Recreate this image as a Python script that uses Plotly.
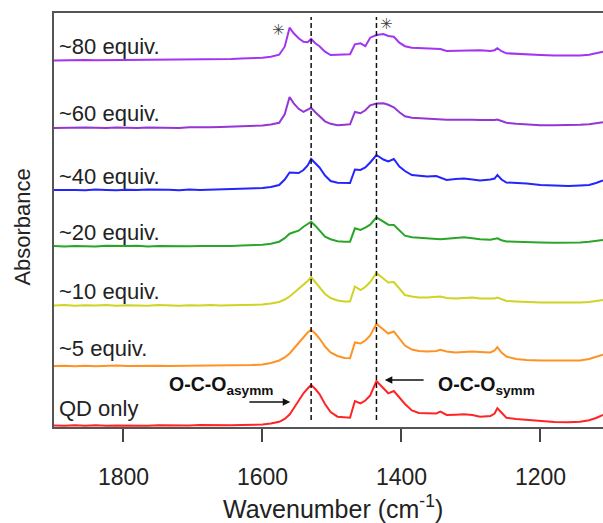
import plotly.graph_objects as go

# ---------------- data ----------------
# wavenumber grid (cm^-1): flat region + band region
wn_flat = [1900, 1885, 1870, 1855, 1840, 1825, 1810, 1795, 1780, 1765,
           1750, 1735, 1720, 1705, 1690, 1675, 1660, 1645, 1630, 1615]
wn_band = [1600, 1588, 1576, 1568, 1561, 1555, 1548, 1541, 1535, 1530,
           1524, 1518, 1510, 1502, 1492, 1482, 1474, 1467, 1459, 1452,
           1445, 1436, 1426, 1419, 1411, 1403, 1395, 1385, 1375, 1363,
           1350, 1344, 1335, 1322, 1310, 1298, 1287, 1272, 1266, 1262,
           1256, 1249, 1235, 1220, 1200, 1180, 1160, 1143, 1130, 1120,
           1110]
wavenumber = wn_flat + wn_band

labels = ["QD only", "~5 equiv.", "~10 equiv.", "~20 equiv.",
          "~40 equiv.", "~60 equiv.", "~80 equiv."]
colors = ["#ff2424", "#ff9224", "#cfd424", "#2aa52a",
          "#2424ff", "#9436d6", "#a234f2"]
# vertical stacking offsets (arb. absorbance units)
offsets = [1, 60.5, 121, 180.3, 236.5, 298.7, 366.3]

qd_only = [0.6, 0.2, 0.7, 0.3, 0.8, 0.2, 0.6, 0.4, 0.9, 0.3,
           0.7, 0.5, 0.8, 0.4, 0.9, 0.6, 0.8, 0.7, 1.0, 1.2] + [
    1.5, 2.5, 4.2, 7, 11.5, 17.7, 25, 32.7, 37.5, 41,
    37, 32, 22, 14, 9.3, 8.5, 8.3, 25, 22.7, 25.5,
    30.5, 45, 37.7, 32.7, 35, 28.5, 22, 15.5, 13, 12.7,
    12.5, 14.3, 11, 11.3, 11.7, 11, 9.3, 10, 12.5, 17.7,
    13, 8.3, 7, 6, 5, 4, 3.8, 4.3, 5.8, 8,
    11]
equiv_5 = [0.4, 0.8, 0.3, 0.7, 0.2, 0.6, 0.9, 0.4, 0.7, 0.3,
           0.8, 0.5, 0.6, 0.9, 0.4, 0.7, 0.6, 0.9, 1.1, 1.4] + [
    2, 3.5, 6, 9, 13, 18, 24, 30, 34, 36.7,
    33, 28, 20, 14, 10.5, 8.5, 8.3, 24, 23, 26,
    31, 42.7, 37, 33, 35, 28, 21, 17, 15.5, 15,
    15.5, 16.7, 15, 14, 14.5, 15, 14.5, 14, 16, 19.3,
    14, 10, 7.5, 6.5, 6, 6, 5.8, 6, 7.5, 9.5,
    11.7]
equiv_10 = [0.5, 0.9, 0.2, 0.7, 0.4, 1.0, 0.3, 0.8, 0.5, 0.2,
            0.9, 0.6, 0.3, 0.8, 0.5, 1.0, 0.4, 0.7, 0.9, 1.2] + [
    1.5, 2.5, 4, 6.5, 9.5, 13, 17, 21, 25, 29,
    24, 18, 12, 8, 5.5, 4.5, 4.5, 19.5, 16, 19,
    24, 33, 27, 23.5, 24, 17, 11, 9.5, 8.5, 8.5,
    9, 9.5, 8, 7.5, 8, 8.5, 7.5, 7, 7.5, 8.5,
    6.5, 5, 4.5, 4, 3.5, 3.5, 3.3, 3.5, 4, 5,
    6]
equiv_20 = [0.7, 0.3, 0.8, 0.5, 0.2, 0.9, 0.4, 0.6, 1.0, 0.3,
            0.7, 0.5, 0.9, 0.4, 0.8, 0.6, 1.0, 0.8, 1.1, 1.5] + [
    2, 3, 5, 8.5, 13, 14.5, 16, 20, 22.5, 25,
    21, 16, 10, 7.5, 5.5, 5, 5, 18.4, 16.7, 19,
    22, 29.4, 25, 22, 21.7, 16, 11, 9.5, 9, 8.4,
    8, 7.4, 8, 8.8, 9.4, 8.5, 7.5, 7, 7.5, 8.4,
    6.5, 5.3, 5, 4.5, 4.2, 4, 4, 4.2, 5, 5.8,
    6.7]
equiv_40 = [0.4, 0.8, 0.5, 0.2, 0.9, 0.6, 0.3, 0.8, 0.4, 1.0,
            0.5, 0.7, 0.3, 0.9, 0.6, 0.8, 1.0, 1.2, 1.5, 2.0] + [
    2.5, 3.5, 5.5, 11, 18, 17.8, 17.5, 20.5, 25, 31.5,
    27, 23, 15, 9.5, 7.8, 7.5, 7.5, 21, 20.5, 23,
    28, 35.5, 31, 29, 31.5, 24, 19.5, 15.5, 14.5, 14,
    14.5, 13, 10.5, 11.5, 12, 11, 10, 11, 12, 15.5,
    11, 8, 7.5, 7, 5.5, 4.8, 4.5, 5, 5.5, 7.5,
    10]
equiv_60 = [0.3, 0.7, 0.4, 0.9, 0.5, 0.2, 0.8, 0.6, 0.3, 0.9,
            0.5, 0.8, 0.4, 1.0, 0.7, 1.0, 1.3, 1.5, 1.8, 2.2] + [
    2.8, 3.8, 5.5, 14, 31.3, 25, 19.5, 16.5, 19, 20.5,
    16, 12, 7, 4.5, 3, 3.5, 4, 16.3, 15, 18,
    23, 24.7, 25, 23.5, 21, 16, 12, 10.5, 10, 9.7,
    9.5, 8.7, 8.5, 8.5, 8.7, 8.5, 8.2, 8, 8.3, 8.7,
    7, 5.5, 4.5, 3.8, 3, 3, 3, 3.5, 4, 5,
    6]
equiv_80 = [0.2, 0.6, 0.3, 0.8, 0.4, 0.5, 0.2, 0.9, 0.5, 0.7,
            1.0, 0.6, 1.2, 0.9, 1.4, 1.3, 1.8, 1.7, 2.2, 2.5] + [
    3, 4, 6, 14, 33, 27.4, 22.4, 19, 18.5, 21.7,
    17.4, 14.5, 9, 5.7, 6, 6.4, 6.4, 16.4, 17.4, 14.5,
    23, 25.7, 26.7, 24.7, 24, 18, 14.5, 13, 12.7, 12.4,
    12, 11.7, 9.7, 10, 10.3, 10.7, 10.5, 9.7, 10.5, 12.4,
    9.5, 7.4, 6.8, 6.4, 5.8, 5.2, 5, 5.3, 6, 7.5,
    9]
spectra = [qd_only, equiv_5, equiv_10, equiv_20, equiv_40, equiv_60, equiv_80]

peak_lines = [1530, 1436]          # O-C-O asymm / symm
impurity_marks = [(1577, 397), (1422, 403)]   # asterisks

tick_vals = [1800, 1600, 1400, 1200]

# ---------------- figure ----------------
fig = go.Figure()
for lab, col, off, sp in zip(labels, colors, offsets, spectra):
    fig.add_trace(go.Scatter(
        x=wavenumber, y=[off + v for v in sp], mode="lines", name=lab,
        line=dict(color=col, width=2), showlegend=False, hoverinfo="skip"))

FONT = "Liberation Sans, Arial, sans-serif"
annotations = []
for lab, off in zip(labels, offsets):
    annotations.append(dict(
        x=0.006, xref="paper", y=off + (18 if off < 100 else 14.5), yref="y",
        text=lab, showarrow=False, xanchor="left", yanchor="middle",
        font=dict(family=FONT, size=22, color="#222")))

# band assignment labels with arrows
annotations += [
    dict(x=1737, y=42, xref="x", yref="y", xanchor="left", yanchor="middle",
         text="<b>O-C-O<sub>asymm</sub></b>", showarrow=False,
         font=dict(family=FONT, size=19.5, color="#111")),
    dict(x=1560, y=25, ax=1621, ay=25, xref="x", yref="y", axref="x", ayref="y",
         text="", showarrow=True, arrowhead=2, arrowsize=1, arrowwidth=1.5,
         arrowcolor="#111"),
    dict(x=1351, y=42, xref="x", yref="y", xanchor="left", yanchor="middle",
         text="<b>O-C-O<sub>symm</sub></b>", showarrow=False,
         font=dict(family=FONT, size=19.5, color="#111")),
    dict(x=1424, y=47, ax=1366, ay=47, xref="x", yref="y", axref="x", ayref="y",
         text="", showarrow=True, arrowhead=2, arrowsize=1, arrowwidth=1.5,
         arrowcolor="#111"),
]
for (xw, yv) in impurity_marks:
    annotations.append(dict(x=xw, y=yv, xref="x", yref="y", text="✳",
                            showarrow=False,
                            font=dict(family="DejaVu Sans", size=15, color="#444")))

# axis titles
annotations += [
    dict(x=0.508, y=(427 - 507) / 414, xref="paper", yref="paper",
         text="Wavenumber (cm<sup>-1</sup>)",
         showarrow=False, xanchor="center", yanchor="middle",
         font=dict(family=FONT, size=25, color="#222")),
    dict(x=-0.058, y=0.482, xref="paper", yref="paper", text="Absorbance",
         textangle=-90, showarrow=False, xanchor="center", yanchor="middle",
         font=dict(family=FONT, size=22, color="#222")),
]

shapes = []
for w in peak_lines:
    shapes.append(dict(type="line", x0=w, x1=w, y0=7, y1=410, xref="x", yref="y",
                       line=dict(color="#111", width=1.5, dash="5px,3px")))

fig.update_layout(
    width=603, height=523,
    margin=dict(l=54, r=0, t=13, b=96),
    paper_bgcolor="white", plot_bgcolor="white",
    annotations=annotations, shapes=shapes,
    xaxis=dict(range=[1900, 1110], tickvals=tick_vals, ticks="outside",
               ticklen=13, tickwidth=1.5, tickcolor="#444",
               showline=True, linecolor="#555", linewidth=1.5, mirror=True,
               showgrid=False, zeroline=False, ticklabelstandoff=16,
               tickfont=dict(family=FONT, size=23, color="#222")),
    yaxis=dict(range=[0, 414], showticklabels=False, ticks="",
               showline=True, linecolor="#555", linewidth=1.5,
               showgrid=False, zeroline=False),
)

fig.write_html("out.html")
